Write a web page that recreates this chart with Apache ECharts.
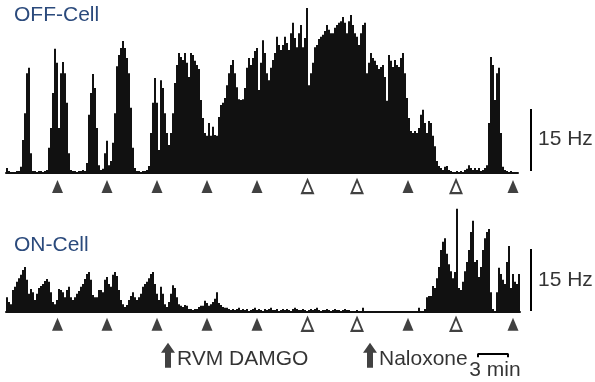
<!DOCTYPE html>
<html><head><meta charset="utf-8">
<script src="https://cdn.jsdelivr.net/npm/echarts@6/dist/echarts.min.js"></script>
<style>html,body{margin:0;padding:0;background:#fff}#c{width:595px;height:382px}</style>
</head><body><div id="c"></div>
<script>
// bin width of the rate histograms (minutes)
const binMinutes = 0.2;
// OFF-cell firing rate (Hz), one value per bin
const offCellHz = [1.2,0.5,0.2,0.2,0.2,0.5,0.5,1.5,8.0,14.5,
24.2,25.5,4.8,0.5,0.5,0.2,0.5,0.5,0.2,0.5,
0.7,6.1,10.9,19.4,30.1,26.7,10.9,24.2,26.9,24.2,
17.0,4.8,0.7,0.5,0.5,0.2,0.5,0.5,0.7,0.5,
2.4,14.1,19.4,24.0,20.6,10.9,1.9,0.7,1.0,4.8,
7.8,1.9,2.9,7.3,14.5,25.9,28.6,30.3,32.0,30.3,
27.9,24.2,15.8,6.1,1.2,0.5,0.5,0.2,0.5,0.5,
0.7,1.7,9.7,17.0,23.0,17.0,5.6,22.5,20.6,14.5,
9.7,6.8,9.7,14.5,21.8,26.2,29.1,28.1,27.4,29.1,
26.7,23.3,29.1,28.6,27.2,26.2,25.2,17.7,13.3,9.7,
9.0,12.1,9.0,11.2,9.2,9.0,13.6,16.5,17.0,18.2,
21.3,24.2,26.2,27.4,24.2,20.8,17.9,17.7,17.9,20.6,
25.5,27.9,26.2,27.9,29.6,30.3,20.1,26.7,32.2,29.1,
24.2,22.5,25.5,27.4,29.1,33.0,31.0,29.8,31.0,33.0,
31.5,29.8,33.9,36.4,32.7,30.5,33.9,35.9,30.5,32.7,
40.0,21.3,24.2,26.7,30.5,31.0,32.5,33.0,33.5,34.4,
35.9,34.7,33.9,33.9,35.2,35.9,36.4,36.8,37.8,36.4,
33.9,36.8,38.3,35.9,33.9,33.0,31.0,33.9,35.9,36.4,
24.2,26.7,29.1,27.9,27.2,26.2,25.2,25.7,26.2,23.3,
17.5,28.6,27.2,25.7,27.4,26.2,25.7,27.9,29.1,24.2,
18.2,13.3,10.2,9.7,10.2,9.7,10.9,14.1,15.3,12.1,
9.7,12.6,12.1,9.0,6.5,2.9,1.7,1.2,0.7,1.5,
1.7,0.7,0.5,0.2,0.2,0.5,0.2,0.5,0.2,0.7,
1.0,1.9,1.2,0.7,1.2,0.7,1.2,0.5,0.7,1.2,
1.9,12.1,28.1,26.2,17.7,24.2,25.5,9.7,1.5,0.7,
0.5,0.2,0.5,0.2,0.2,0.2];
// ON-cell firing rate (Hz), one value per bin
const onCellHz = [3.6,2.4,1.9,5.3,6.1,7.3,8.2,9.0,10.2,10.9,
7.8,4.4,5.6,4.8,2.9,4.4,5.8,6.3,6.8,7.5,
8.0,7.3,4.8,2.4,1.9,2.9,5.6,5.3,4.8,3.6,
5.3,6.1,3.6,2.9,3.6,4.4,5.1,6.1,6.8,8.0,
9.2,9.7,7.8,4.1,3.6,3.6,5.3,5.3,4.8,7.8,
8.5,6.8,6.1,9.0,9.7,8.7,5.3,2.9,1.9,1.2,
1.7,2.9,3.9,4.8,3.6,2.9,3.6,4.4,6.1,6.8,
7.3,8.2,9.2,9.7,6.8,4.4,2.9,6.1,4.4,1.9,
1.2,2.4,4.4,6.5,5.8,3.6,1.9,1.5,1.2,1.7,
1.5,0.7,0.7,0.5,0.7,0.7,1.2,1.5,1.5,2.7,
2.2,1.5,1.9,2.4,3.2,4.8,2.2,1.7,1.2,1.0,
1.0,0.7,0.5,0.7,0.5,0.7,1.0,0.5,0.7,0.5,
0.7,0.2,0.5,0.7,1.0,0.5,0.7,0.5,0.2,0.7,
0.5,0.7,1.0,0.5,0.5,0.7,0.2,0.5,0.7,0.5,
0.7,0.5,0.2,0.7,1.0,0.7,0.5,0.5,0.7,0.5,
0.2,0.5,0.7,0.5,0.7,1.0,0.5,0.2,0.5,0.5,
0.7,0.5,0.2,0.5,0.7,0.5,0.5,0.2,0.5,0.7,
0.5,0.5,0.2,0.2,0.2,0.5,0.2,0.2,1.0,0.2,
0.2,0.2,0.2,0.2,0.2,0.2,0.2,0.2,0.2,0.2,
0.2,0.2,0.2,0.2,0.2,0.2,0.2,0.2,0.2,0.2,
0.2,0.2,0.2,0.2,0.2,0.2,1.0,0.2,0.2,0.7,
3.6,3.9,3.9,6.3,5.8,8.2,10.9,15.0,17.0,17.9,
14.1,11.6,9.9,8.2,9.7,25.0,5.8,5.3,7.3,9.9,
12.1,15.0,19.4,22.1,12.1,12.6,8.5,10.9,15.0,17.9,
19.4,20.1,4.8,0.7,0.2,4.8,10.7,9.2,7.8,6.8,
12.1,16.0,5.8,9.2,7.3,6.8,9.2];
// noxious stimulus times (min) and whether the response was absent (open triangle)
const stimTimes = [5.15, 10.1, 15.1, 20.1, 25.1, 30.15, 35.1, 40.2, 45.0, 50.7];
const stimOpen  = [false, false, false, false, false, true, true, false, true, false];
// drug administrations
const drugTimes  = [16.2, 36.4];
const drugLabels = ['RVM DAMGO', 'Naloxone'];
// scale bars
const scaleHz = 15;
const scaleMinutes = 3;
const cellLabels = ['OFF-Cell', 'ON-Cell'];

const FONT = '"Liberation Sans", Arial, Helvetica, sans-serif';
const INK = '#000';
const BAR = '#111';
const catsTop = offCellHz.map((_, i) => (i * binMinutes).toFixed(1));
const catsBot = onCellHz.map((_, i) => (i * binMinutes).toFixed(1));

const filled = {color: BAR};
const open = {color: '#fff', borderColor: BAR, borderWidth: 2};
function stimData(y) {
  return stimTimes.map((t, i) => ({value: [t, y], itemStyle: stimOpen[i] ? open : filled}));
}
function textLabel(text, pos, extra) {
  return Object.assign({show: true, position: pos, formatter: text, fontSize: 21,
    fontFamily: FONT, color: INK}, extra || {});
}
const ARROW = 'path://M7,0 L14,10 L10,10 L10,25 L4,25 L4,10 L0,10 Z';

const chart = echarts.init(document.getElementById('c'));
chart.setOption({
  animation: false,
  backgroundColor: '#fff',
  grid: [
    {left: 6, top: 8, width: 512, height: 185.6},
    {left: 6, top: 147, width: 514, height: 185.6},
    {left: 6, top: 8, width: 580, height: 185.6},
    {left: 6, top: 147, width: 580, height: 185.6}
  ],
  xAxis: [
    {type: 'category', gridIndex: 0, data: catsTop, boundaryGap: true,
     axisLine: {onZero: true, lineStyle: {color: BAR, width: 2}},
     axisTick: {show: false}, axisLabel: {show: false}, splitLine: {show: false}},
    {type: 'value', gridIndex: 2, min: 0, max: 58, show: false},
    {type: 'category', gridIndex: 1, data: catsBot, boundaryGap: true,
     axisLine: {onZero: true, lineStyle: {color: BAR, width: 2}},
     axisTick: {show: false}, axisLabel: {show: false}, splitLine: {show: false}},
    {type: 'value', gridIndex: 3, min: 0, max: 58, show: false}
  ],
  yAxis: [
    {type: 'value', gridIndex: 0, min: -5, max: 40, show: false, splitLine: {show: false}},
    {type: 'value', gridIndex: 1, min: -5, max: 40, show: false, splitLine: {show: false}},
    {type: 'value', gridIndex: 2, min: -5, max: 40, show: false, splitLine: {show: false}},
    {type: 'value', gridIndex: 3, min: -5, max: 40, show: false, splitLine: {show: false}}
  ],
  series: [
    {type: 'bar', xAxisIndex: 0, yAxisIndex: 0, data: offCellHz, barCategoryGap: '0%',
     itemStyle: {color: BAR}, silent: true},
    {type: 'bar', xAxisIndex: 2, yAxisIndex: 1, data: onCellHz, barCategoryGap: '0%',
     itemStyle: {color: BAR}, silent: true},
    {type: 'scatter', xAxisIndex: 1, yAxisIndex: 2, symbol: 'triangle', symbolSize: [11, 13],
     data: stimData(-3.3), clip: false, silent: true},
    {type: 'scatter', xAxisIndex: 3, yAxisIndex: 3, symbol: 'triangle', symbolSize: [11, 13],
     data: stimData(-3.0), clip: false, silent: true},
    // 15 Hz scale bars
    {type: 'line', xAxisIndex: 1, yAxisIndex: 2, symbol: 'none', clip: false, silent: true,
     lineStyle: {color: INK, width: 2}, data: [[52.5, 0.5], [52.5, 0.5 + scaleHz]]},
    {type: 'scatter', xAxisIndex: 1, yAxisIndex: 2, symbolSize: 0, clip: false, silent: true,
     data: [[52.5, 8.1]], label: textLabel(scaleHz + ' Hz', 'right', {distance: 7})},
    {type: 'line', xAxisIndex: 3, yAxisIndex: 3, symbol: 'none', clip: false, silent: true,
     lineStyle: {color: INK, width: 2}, data: [[52.5, 0.25], [52.5, 0.25 + scaleHz]]},
    {type: 'scatter', xAxisIndex: 3, yAxisIndex: 3, symbolSize: 0, clip: false, silent: true,
     data: [[52.5, 7.8]], label: textLabel(scaleHz + ' Hz', 'right', {distance: 7})},
    // drug arrows
    {type: 'scatter', xAxisIndex: 3, yAxisIndex: 3, symbol: ARROW, symbolSize: [14, 25],
     clip: false, silent: true, itemStyle: {color: BAR},
     data: drugTimes.map(t => [t, -10.5]),
     label: textLabel(p => drugLabels[p.dataIndex], 'right', {distance: 2, offset: [0, 4]})},
    // 3 min time scale bar
    {type: 'line', xAxisIndex: 3, yAxisIndex: 3, symbol: 'none', clip: false, silent: true,
     lineStyle: {color: INK, width: 2},
     data: [[47.2, -11], [47.2, -10.2], [47.2 + scaleMinutes, -10.2], [47.2 + scaleMinutes, -11]]},
    {type: 'scatter', xAxisIndex: 3, yAxisIndex: 3, symbolSize: 0, clip: false, silent: true,
     data: [[48.9, -14.0]], label: textLabel(scaleMinutes + ' min', 'inside')}
  ],
  graphic: [
    {type: 'text', x: 14, y: 15.5, silent: true,
     style: {text: cellLabels[0], font: '21px ' + FONT, fill: '#2b4a7c', verticalAlign: 'middle'}},
    {type: 'text', x: 14, y: 245, silent: true,
     style: {text: cellLabels[1], font: '21px ' + FONT, fill: '#2b4a7c', verticalAlign: 'middle'}}
  ]
});
</script>
</body></html>
